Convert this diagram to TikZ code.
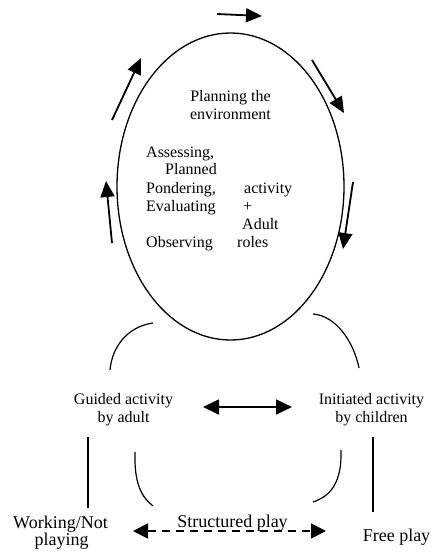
\documentclass[tikz,border=0pt]{standalone}
\usepackage{fontspec}
\setmainfont{Liberation Serif}
\usetikzlibrary{shapes.geometric,arrows.meta}
\begin{document}
\begin{tikzpicture}[x=1pt,y=-1pt,
  txt/.style={inner sep=0pt, font=\fontsize{16}{18}\selectfont},
  big/.style={inner sep=0pt, font=\fontsize{18}{20}\selectfont},
  flow/.style={line width=1.8pt, -{Triangle[length=16pt,width=14pt]}},
  link/.style={line width=1.2pt},
  both/.style={line width=1.8pt, {Triangle[length=16pt,width=15pt]}-{Triangle[length=16pt,width=15pt]}},
  dashboth/.style={line width=1.8pt, dash pattern=on 8pt off 6pt, {Triangle[length=15pt,width=15pt]}-{Triangle[length=15pt,width=15pt]}}]
\useasboundingbox (0,0) rectangle (433,558);
\fill[white] (0,0) rectangle (433,558);
% main ellipse
\node[ellipse, draw, line width=1.3pt, minimum width=227pt, minimum height=307pt, inner sep=0pt] (env) at (230.5,186.5) {};
% arrows around ellipse
\coordinate (a1s) at (217,14); \coordinate (a1e) at (262,16);
\coordinate (a2s) at (312,60); \coordinate (a2e) at (344,113);
\coordinate (a3s) at (353,182); \coordinate (a3e) at (343,249);
\coordinate (a4s) at (112,243); \coordinate (a4e) at (106,181);
\coordinate (a5s) at (112,120); \coordinate (a5e) at (141,58);
\draw[flow] (a1s) -- (a1e);
\draw[flow] (a2s) -- (a2e);
\draw[flow] (a3s) -- (a3e);
\draw[flow] (a4s) -- (a4e);
\draw[flow] (a5s) -- (a5e);
% texts inside ellipse
\node[txt, anchor=base] (p1) at (230.5,101) {Planning the};
\node[txt, anchor=base] (p2) at (230.5,119) {environment};
\node[txt, anchor=base west] (l1) at (146,157) {Assessing,};
\node[txt, anchor=base west] (l2) at (165,174) {Planned};
\node[txt, anchor=base west] (l3) at (146,193) {Pondering,};
\node[txt, anchor=base west] (l4) at (146,211) {Evaluating};
\node[txt, anchor=base west] (l5) at (146,247) {Observing};
\node[txt, anchor=base west] (r1) at (244,193) {activity};
\node[txt, anchor=base west] (r2) at (243,211) {+};
\node[txt, anchor=base west] (r3) at (242,229) {Adult};
\node[txt, anchor=base west] (r4) at (237,247) {roles};
% lower labels
\node[txt, anchor=base] (g1) at (123.5,404) {Guided activity};
\node[txt, anchor=base] (g2) at (123.5,422) {by adult};
\node[txt, anchor=base] (i1) at (371.5,404) {Initiated activity};
\node[txt, anchor=base] (i2) at (371.5,422) {by children};
\node[big, anchor=base] (w1) at (60.5,528) {Working/Not};
\node[big, anchor=base] (w2) at (61.5,545) {playing};
\node[big, anchor=base] (fp) at (396.5,541) {Free play};
% arcs
\coordinate (c1s) at (153,323); \coordinate (c1e) at (110,370);
\coordinate (c2s) at (313,314); \coordinate (c2e) at (359,368);
\coordinate (c3s) at (135,452); \coordinate (c3e) at (153,506);
\coordinate (c4s) at (341,450); \coordinate (c4e) at (313,502);
\draw[link] (c1s) .. controls (126,327) and (112,348) .. (c1e);
\draw[link] (c2s) .. controls (337,316) and (354,343) .. (c2e);
\draw[link] (c3s) .. controls (134,482) and (141,497) .. (c3e);
\draw[link] (c4s) .. controls (342,482) and (331,496) .. (c4e);
% vertical lines
\coordinate (v1s) at (88,437); \coordinate (v1e) at (88,508);
\coordinate (v2s) at (373,437); \coordinate (v2e) at (373,512);
\draw[link] (v1s) -- (v1e);
\draw[link] (v2s) -- (v2e);
% arrows between activities
\coordinate (b1) at (203,407); \coordinate (b2) at (292,407);
\draw[both] (b1) -- (b2);
\coordinate (d1) at (133,531); \coordinate (d2) at (326,531);
\draw[dashboth] (d1) -- (d2);
\node[big, anchor=base] (sp) at (232.5,527) {Structured play};
\end{tikzpicture}
\end{document}
